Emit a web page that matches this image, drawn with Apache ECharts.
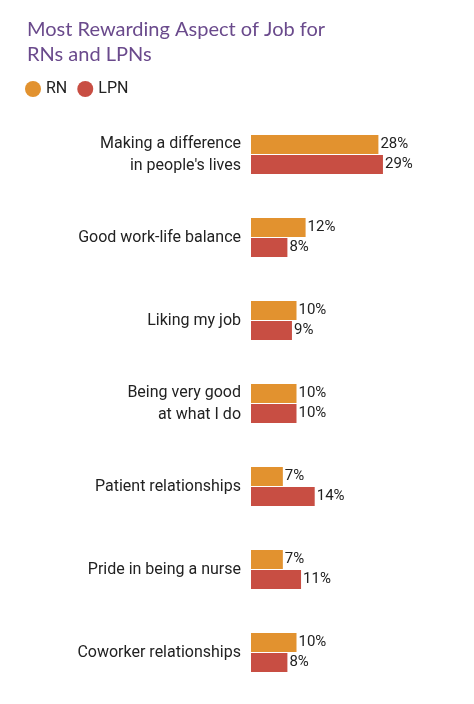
<!DOCTYPE html>
<html><head><meta charset="utf-8">
<script src="https://cdn.jsdelivr.net/npm/echarts@6/dist/echarts.min.js"></script>
<style>html,body{margin:0;padding:0;background:#fff}#c{width:474px;height:704px}</style>
</head><body><div id="c"></div>
<script>
const categories = ["Making a difference\nin people's lives","Good work-life balance","Liking my job","Being very good\nat what I do","Patient relationships","Pride in being a nurse","Coworker relationships"];
const rnValues = [28,12,10,10,7,7,10];
const lpnValues = [29,8,9,10,14,11,8];
const chart = echarts.init(document.getElementById('c'));
const lbl = {show:true,position:'right',distance:2,formatter:'{c}%',color:'#222',fontFamily:'Roboto',fontSize:15};
chart.setOption({
  animation:false,
  title:{text:'Most Rewarding Aspect of Job for\nRNs and LPNs',left:22,top:12,textStyle:{color:'#6a4a8c',fontFamily:'Lato',fontWeight:'normal',fontSize:20,lineHeight:25}},
  legend:{left:20,top:76,icon:'circle',itemWidth:16,itemHeight:16,itemGap:10,textStyle:{fontFamily:'Roboto',fontSize:16,color:'#222'},data:['RN','LPN']},
  grid:{left:251,right:41,top:113,bottom:10},
  xAxis:{type:'value',min:0,max:40,show:false},
  yAxis:{type:'category',inverse:true,data:categories,axisLine:{show:false},axisTick:{show:false},
    axisLabel:{margin:10,fontFamily:'Roboto',fontSize:16,color:'#222',lineHeight:22,align:'right'}},
  series:[
    {name:'RN',type:'bar',data:rnValues,barWidth:19,barGap:'5%',itemStyle:{color:'#e2922f'},label:lbl},
    {name:'LPN',type:'bar',data:lpnValues,barWidth:19,itemStyle:{color:'#c84e43'},label:lbl}
  ]
});
</script></body></html>
